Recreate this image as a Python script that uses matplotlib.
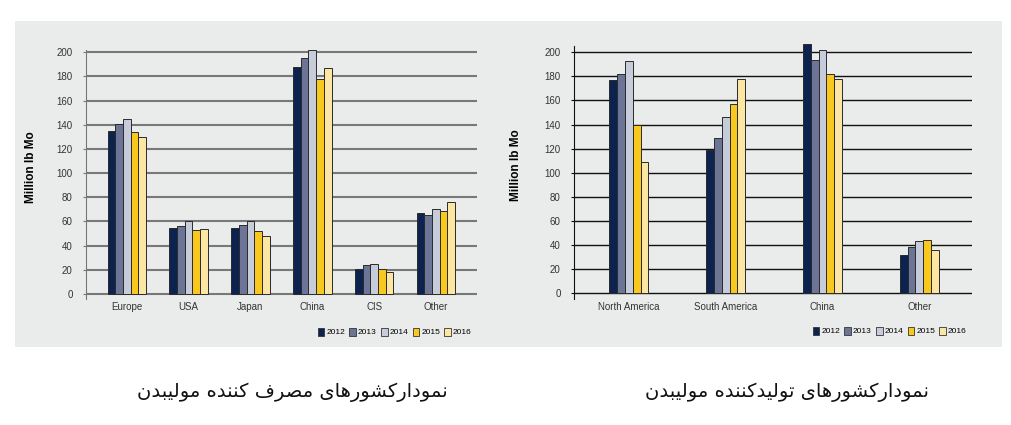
import matplotlib
matplotlib.use("Agg")
import matplotlib.pyplot as plt
from matplotlib.patches import Rectangle, Patch
import numpy as np

# consumption (left chart)
cons_cats = ['Europe', 'USA', 'Japan', 'China', 'CIS', 'Other']
cons_2012 = [135, 55, 55, 188, 21, 67]
cons_2013 = [141, 56, 57, 195, 24, 65]
cons_2014 = [145, 60, 60, 202, 25, 70]
cons_2015 = [134, 53, 52, 178, 21, 69]
cons_2016 = [130, 54, 48, 187, 18, 76]

# production (right chart)
prod_cats = ['North America', 'South America', 'China', 'Other']
prod_2012 = [177, 119, 207, 32]
prod_2013 = [182, 129, 194, 38]
prod_2014 = [193, 146, 202, 43]
prod_2015 = [140, 157, 182, 44]
prod_2016 = [109, 178, 178, 36]

years = ['2012', '2013', '2014', '2015', '2016']
yticks = [0, 20, 40, 60, 80, 100, 120, 140, 160, 180, 200]
colors = ['#0c2350', '#6d7596', '#c6ccda', '#f8c81f', '#fbe7a3']

caption_left = 'نمودارکشورهای مصرف کننده مولیبدن'
caption_right = 'نمودارکشورهای تولیدکننده مولیبدن'

###############################################################
# small persian shaper (matplotlib has no arabic shaping)
###############################################################
FORMS = {
    'ن': '\uFEE5\uFEE6\uFEE7\uFEE8', 'م': '\uFEE1\uFEE2\uFEE3\uFEE4',
    'ک': '\uFB8E\uFB8F\uFB90\uFB91', 'ش': '\uFEB5\uFEB6\uFEB7\uFEB8',
    'ه': '\uFEE9\uFEEA\uFEEB\uFEEC', 'ی': '\uFBFC\uFBFD\uFBFE\uFBFF',
    'ص': '\uFEB9\uFEBA\uFEBB\uFEBC', 'ف': '\uFED1\uFED2\uFED3\uFED4',
    'ل': '\uFEDD\uFEDE\uFEDF\uFEE0', 'ب': '\uFE8F\uFE90\uFE91\uFE92',
    'ت': '\uFE95\uFE96\uFE97\uFE98',
    'و': '\uFEED\uFEEE', 'د': '\uFEA9\uFEAA', 'ا': '\uFE8D\uFE8E',
    'ر': '\uFEAD\uFEAE',
}

def shape(s):
    out = []
    for i, c in enumerate(s):
        if c not in FORMS:
            out.append(c)
            continue
        prev = s[i-1] if i > 0 else None
        nxt = s[i+1] if i + 1 < len(s) else None
        f = FORMS[c]
        jp = prev in FORMS and len(FORMS[prev]) == 4
        jn = len(f) == 4 and nxt in FORMS
        if jp and jn:
            out.append(f[3])
        elif jp:
            out.append(f[1])
        elif jn:
            out.append(f[2])
        else:
            out.append(f[0])
    return ''.join(out)[::-1]

###############################################################
narrow = ['Liberation Sans Narrow', 'Liberation Sans', 'DejaVu Sans']

fig = plt.figure(figsize=(10.11, 4.25), dpi=100)
fig.patches.append(Rectangle((15/1011, 1-347/425), 987/1011, 326/425,
                             transform=fig.transFigure, facecolor='#eaeceb',
                             edgecolor='none', zorder=-10))

def draw(ax, cats, series, width, gridcol, gridlw, ylim, labelx):
    x = np.arange(len(cats))
    for k, vals in enumerate(series):
        ax.bar(x + (k - 2) * width, vals, width, color=colors[k],
               edgecolor='#2a2a2a', linewidth=0.7, zorder=3, clip_on=False)
    ax.set_facecolor('none')
    ax.set_ylim(*ylim)
    ax.set_yticks(yticks)
    for t in yticks:
        ax.axhline(t, color=gridcol, lw=gridlw, zorder=1)
    ax.set_xticks(x)
    ax.set_xticklabels(cats, family=narrow, fontsize=7, color='#333333')
    for lab in ax.get_yticklabels():
        lab.set_family(narrow)
    ax.tick_params(axis='y', labelsize=7, length=2.5, pad=7, colors=gridcol,
                   labelcolor='#333333', width=0.8)
    ax.tick_params(axis='x', length=0, pad=2)
    for sp in ['top', 'right', 'bottom']:
        ax.spines[sp].set_visible(False)
    ax.spines['left'].set_color(gridcol)
    ax.spines['left'].set_linewidth(0.8)
    ax.set_ylabel('Million lb Mo', fontsize=8.5, fontweight='bold',
                  family='Liberation Sans')
    ax.yaxis.set_label_coords(labelx, 0.53)

ax1 = fig.add_axes([86/1011, 0.2969, 390.7/1011, 0.5857])
ax1.set_xlim(-0.66, 5.66)
draw(ax1, cons_cats, [cons_2012, cons_2013, cons_2014, cons_2015, cons_2016],
     0.1245, '#787878', 1.5, (-4, 202), -0.125)

ax2 = fig.add_axes([574/1011, 0.2958, 397.7/1011, 0.5953])
ax2.set_xlim(-0.565, 3.54)
draw(ax2, prod_cats, [prod_2012, prod_2013, prod_2014, prod_2015, prod_2016],
     0.081, '#111111', 1.0, (-5, 205), -0.13)

handles = [Patch(facecolor=c, edgecolor='#333333', linewidth=0.6) for c in colors]
for xa, ya in [(476/1011, 1-332/425), (971/1011, 1-331/425)]:
    fig.legend(handles, years, loc='center right', bbox_to_anchor=(xa, ya),
               ncol=5, frameon=False, handlelength=0.8, handleheight=1.1,
               handletextpad=0.25, columnspacing=0.5, borderpad=0,
               prop={'family': narrow, 'size': 6})

fig.text(292/1011, 1-392/425, shape(caption_left), ha='center', va='center',
         fontsize=14, family='DejaVu Sans', color='#111111')
fig.text(787/1011, 1-392/425, shape(caption_right), ha='center', va='center',
         fontsize=14, family='DejaVu Sans', color='#111111')

plt.savefig('out.png', dpi=100)
